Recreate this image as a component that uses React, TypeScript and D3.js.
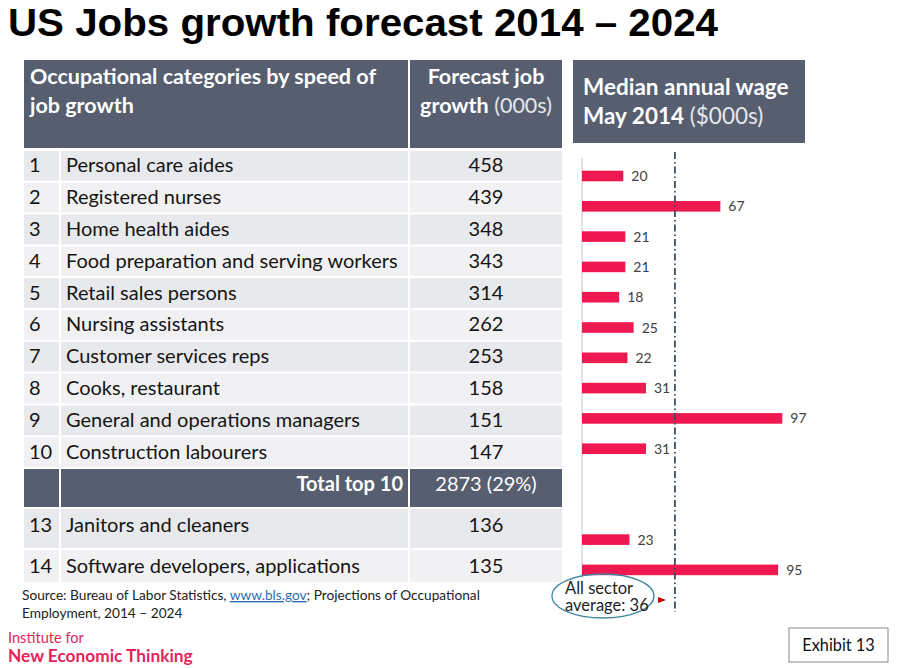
import React, { useEffect } from "react";
import * as d3 from "d3";

// ---------- data ----------
const ranks = ["1", "2", "3", "4", "5", "6", "7", "8", "9", "10", "13", "14"];
const occupations = [
  "Personal care aides",
  "Registered nurses",
  "Home health aides",
  "Food preparation and serving workers",
  "Retail sales persons",
  "Nursing assistants",
  "Customer services reps",
  "Cooks, restaurant",
  "General and operations managers",
  "Construction labourers",
  "Janitors and cleaners",
  "Software developers, applications",
];
const forecastGrowth = [458, 439, 348, 343, 314, 262, 253, 158, 151, 147, 136, 135];
const medianWage = [20, 67, 21, 21, 18, 25, 22, 31, 97, 31, 23, 95];
const barSlots = ["1", "2", "3", "4", "5", "6", "7", "8", "9", "10", "total", "gap", "13", "14"];
const totalLabel = "Total top 10";
const totalValue = "2873 (29%)";
const allSectorAverage = 36;
const averageLineValue = 45; // where the reference line is drawn in the source
const wageDomain = [0, 100];

const FONT = "Lato, 'Open Sans', sans-serif";
const HEADER = "#565E6F";
const BAR = "#F01850";

export default function App() {
  useEffect(() => {
    document.body.style.margin = "0";
  }, []);

  const W = 897;
  const H = 668;

  // table geometry
  const tx0 = 24, tNum = 60, tName = 409, tx1 = 562;
  const rowBand = d3.scaleBand<number>().domain(d3.range(10)).range([150, 468]);
  const rowsBox = ranks.map((r, i) => {
    if (i < 10) return { y0: rowBand(i)!, y1: rowBand(i)! + rowBand.step(), ty: rowBand(i)! + rowBand.step() / 2 + 6.5 };
    if (i === 10) return { y0: 508, y1: 549, ty: 531.5 };
    return { y0: 549, y1: 582, ty: 572.5 };
  });

  // bar chart scales
  const x = d3.scaleLinear().domain(wageDomain).range([582, 582 + 206.5]);
  const y = d3
    .scaleBand<string>()
    .domain(barSlots)
    .range([160.85, 585.05])
    .paddingInner(0.65)
    .paddingOuter(0.325);
  const barKeys = ranks;

  const BODY = 20;
  const HEAD = 21.5;

  return (
    <svg width={W} height={H} style={{ display: "block", background: "#fff" }} fontFamily={FONT}>
      {/* title */}
      <text x={8} y={36} fontFamily="'Liberation Sans', Arial, sans-serif" fontWeight="bold" fontSize={39} fill="#000" textLength={710} lengthAdjust="spacingAndGlyphs">
        US Jobs growth forecast 2014 – 2024
      </text>

      {/* table header */}
      <rect x={tx0} y={60} width={tx1 - tx0} height={88} fill={HEADER} />
      <line x1={tName} x2={tName} y1={60} y2={148} stroke="#fff" strokeWidth={2} />
      <text x={30} y={84} fill="#fff" fontWeight="bold" fontSize={HEAD}>Occupational categories by speed of</text>
      <text x={30} y={113} fill="#fff" fontWeight="bold" fontSize={HEAD}>job growth</text>
      <text x={486} y={84} fill="#fff" fontWeight="bold" fontSize={HEAD} textAnchor="middle">Forecast job</text>
      <text x={486} y={113} fill="#fff" fontSize={HEAD} textAnchor="middle">
        <tspan fontWeight="bold">growth</tspan>
        <tspan fill="#E6E8EC"> (000s)</tspan>
      </text>

      {/* table rows */}
      {ranks.map((r, i) => {
        const b = rowsBox[i];
        const fill = i % 2 === 0 ? "#E8E9EC" : "#F1F1F3";
        return (
          <g key={r}>
            <rect x={tx0} y={b.y0} width={tx1 - tx0} height={b.y1 - b.y0} fill={fill} />
            <text x={29} y={b.ty} fontSize={BODY} fill="#151515">{r}</text>
            <text x={66} y={b.ty} fontSize={BODY} fill="#151515">{occupations[i]}</text>
            <text x={486} y={b.ty} fontSize={BODY} fill="#151515" textAnchor="middle">{forecastGrowth[i]}</text>
          </g>
        );
      })}
      {/* total row */}
      <rect x={tx0} y={468} width={tx1 - tx0} height={40} fill={HEADER} />
      <text x={403} y={491} fill="#fff" fontWeight="bold" fontSize={BODY} textAnchor="end">{totalLabel}</text>
      <text x={486} y={491} fill="#fff" fontSize={BODY} textAnchor="middle">{totalValue}</text>

      {/* row separators */}
      {rowsBox.slice(1).map((b, i) => (
        <line key={"s" + i} x1={tx0} x2={tx1} y1={b.y0} y2={b.y0} stroke="#fff" strokeWidth={2} />
      ))}
      <line x1={tx0} x2={tx1} y1={150} y2={150} stroke="#fff" strokeWidth={2} />
      <line x1={tx0} x2={tx1} y1={468} y2={468} stroke="#fff" strokeWidth={2} />
      <line x1={tNum} x2={tNum} y1={149} y2={582} stroke="#fff" strokeWidth={2} />
      <line x1={tName} x2={tName} y1={149} y2={582} stroke="#fff" strokeWidth={2} />

      {/* chart header */}
      <rect x={573} y={60} width={232} height={83} fill={HEADER} />
      <text x={583} y={95} fill="#fff" fontWeight="bold" fontSize={22.5}>Median annual wage</text>
      <text x={583} y={124} fill="#fff" fontSize={22.5}>
        <tspan fontWeight="bold">May 2014</tspan>
        <tspan fill="#E6E8EC"> ($000s)</tspan>
      </text>

      {/* axis line */}
      <line x1={x(0)} x2={x(0)} y1={158} y2={578} stroke="#D9D9D9" strokeWidth={1.5} />

      {/* bars */}
      {barKeys.map((k, i) => (
        <g key={"b" + k}>
          <rect x={x(0)} y={y(k)!} width={x(medianWage[i]) - x(0)} height={y.bandwidth()} fill={BAR} />
          <text x={x(medianWage[i]) + 8} y={y(k)! + y.bandwidth() / 2 + 5} fontSize={14} fill="#404040">
            {medianWage[i]}
          </text>
        </g>
      ))}

      {/* average line */}
      <line
        x1={x(averageLineValue)}
        x2={x(averageLineValue)}
        y1={152}
        y2={612}
        stroke="#3C4F63"
        strokeWidth={1.8}
        strokeDasharray="7,3,1.5,3"
      />

      {/* annotation */}
      <ellipse cx={603} cy={596} rx={51} ry={22} fill="none" stroke="#3E84A0" strokeWidth={1.3} />
      <text x={565} y={594} fontSize={16.5} fill="#1E1E1E">All sector</text>
      <text x={565} y={611} fontSize={16.5} fill="#1E1E1E">average: {allSectorAverage}</text>
      <path d="M658,597 L666,600 L658,603 Z" fill="#C00000" />

      {/* source */}
      <text x={22} y={600} fontSize={13.7} fill="#222">
        Source: Bureau of Labor Statistics, <tspan fill="#2F6DB5" textDecoration="underline">www.bls.gov</tspan>; Projections of Occupational
      </text>
      <text x={22} y={618} fontSize={13.7} fill="#222">Employment, 2014 – 2024</text>

      {/* logo text */}
      <text x={8} y={643} fontSize={14.6} fill="#E3245C">Institute for</text>
      <text x={8} y={662} fontSize={17.3} fontWeight="bold" fill="#E3245C">New Economic Thinking</text>

      {/* exhibit box */}
      <rect x={789} y={628} width={99} height={34} fill="#fff" stroke="#8A8A8A" strokeWidth={1} />
      <text x={838.5} y={651} fontSize={16.3} fill="#111" textAnchor="middle">Exhibit  13</text>
    </svg>
  );
}
